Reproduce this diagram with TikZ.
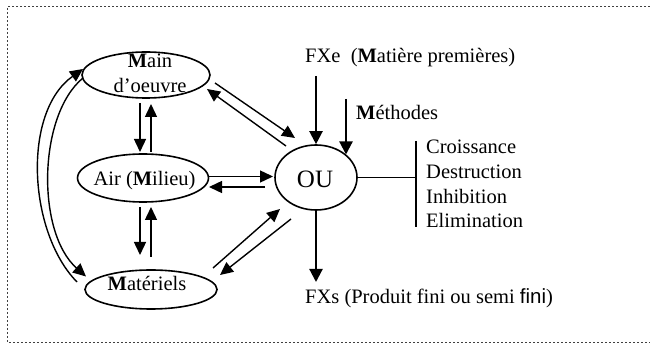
\documentclass[tikz,border=0pt]{standalone}
\usepackage{fontspec}
\setmainfont{Liberation Serif}
\newfontfamily\arialfont{Liberation Sans}
\usetikzlibrary{arrows.meta,shapes.geometric,calc}
\begin{document}
\begin{tikzpicture}[x=1pt,y=-1pt,
  ell/.style={draw, ellipse, line width=1.6pt, inner sep=0pt},
  lbl/.style={font=\fontsize{20.5}{25}\selectfont, inner sep=0pt},
  arr/.style={-{Triangle[length=13pt,width=12pt]}, line width=1.4pt},
  thickarr/.style={-{Triangle[length=13pt,width=13pt]}, line width=2.2pt},
  frame/.style={line width=1pt, draw=black!75, dash pattern=on 1.6pt off 2.4pt}
]
\useasboundingbox (0,0) rectangle (650,344);
\draw[frame] (650,7) -- (7,7) -- (7,342) -- (650,342);

% ellipses
\node[ell, minimum width=128pt, minimum height=46pt] (main) at (146,75) {};
\node[ell, minimum width=131pt, minimum height=48pt] (air) at (143,178) {};
\node[ell, minimum width=132pt, minimum height=39pt] (mat) at (151,289.5) {};
\node[ell, minimum width=82pt, minimum height=65pt] (ou) at (316,177.5) {};

% ellipse texts
\node[lbl, anchor=base] (maint) at (150,68) {\textbf{M}ain};
\node[lbl, anchor=base] (maint2) at (150,93) {d’oeuvre};
\node[lbl, anchor=base] (airt) at (144.5,186) {Air (\textbf{M}ilieu)};
\node[lbl, anchor=base] (matt) at (147,291) {\textbf{M}atériels};
\node[lbl, anchor=base, font=\fontsize{25}{30}\selectfont] (out) at (315,188) {OU};

% other labels
\node[lbl, anchor=base west] (fxe) at (305,63) {FXe\ \ (\textbf{M}atière premières)};
\node[lbl, anchor=base west] (meth) at (356,120) {\textbf{M}éthodes};
\node[lbl, anchor=base west] (c1) at (426,154) {Croissance};
\node[lbl, anchor=base west] (c2) at (426,178.6) {Destruction};
\node[lbl, anchor=base west] (c3) at (426,203.2) {Inhibition};
\node[lbl, anchor=base west] (c4) at (426,227.8) {Elimination};
\node[lbl, anchor=base west] (fxs) at (305,304) {FXs (Produit fini ou semi {\arialfont fini})};

% free ends
\coordinate (fxein) at (316,76);
\coordinate (methin) at (346,99);
\coordinate (fxsend) at (316,282);
\coordinate (bmid) at (416,177.5);
\coordinate (btop) at (416,141);
\coordinate (bbot) at (416,227);

% main <-> air
\draw[arr] ($(main.center)+(-6,28)$) -- ($(air.center)+(-3,-26)$);
\draw[arr] ($(air.center)+(8,-26)$) -- ($(main.center)+(5,29)$);
% air <-> mat
\draw[arr] ($(air.center)+(-3,29)$) -- ($(mat.center)+(-11,-34.5)$);
\draw[arr] ($(mat.center)+(0,-32.5)$) -- ($(air.center)+(8,29)$);
% main <-> ou
\draw[arr] ($(main.center)+(69,8)$) -- ($(ou.center)+(-21,-39.5)$);
\draw[arr] ($(ou.center)+(-30,-31.5)$) -- ($(main.center)+(61,14)$);
% air <-> ou
\draw[arr] ($(air.center)+(66,-1.5)$) -- ($(ou.center)+(-43,-1)$);
\draw[arr] ($(ou.center)+(-51,9.5)$) -- ($(air.center)+(66,9)$);
% mat <-> ou
\draw[arr] ($(mat.center)+(62,-21.5)$) -- ($(ou.center)+(-36,31.5)$);
\draw[arr] ($(ou.center)+(-25,41.5)$) -- ($(mat.center)+(69,-14.5)$);

% long curves
\draw[arr] ($(mat.center)+(-74,-7.5)$) .. controls (28,232) and (22,112) .. ($(main.center)+(-63,-6)$);
\draw[arr] ($(main.center)+(-63,3)$) .. controls (38,115) and (36,232) .. ($(mat.center)+(-65,-13)$);

% vertical thick arrows
\draw[thickarr] (fxein) -- (ou.north);
\draw[thickarr] (methin) -- ($(ou.center)+(30,-23)$);
\draw[thickarr] (ou.south) -- (fxsend);

% bracket
\draw[line width=1.4pt] (ou.east) -- (bmid);
\draw[line width=2.2pt] (btop) -- (bbot);
\end{tikzpicture}
\end{document}
